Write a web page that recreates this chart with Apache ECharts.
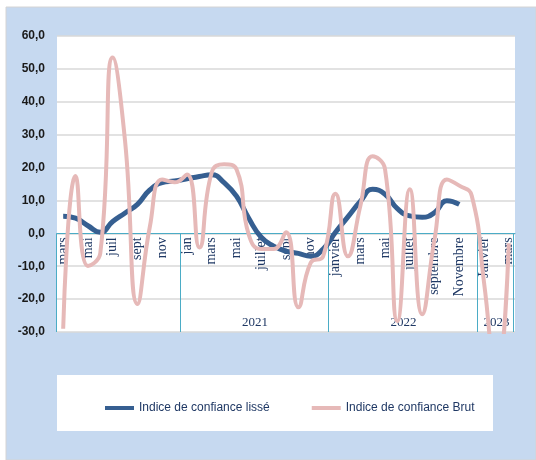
<!DOCTYPE html>
<html>
<head>
<meta charset="utf-8">
<style>
  html, body { margin: 0; padding: 0; background: #fff; }
  #chart { width: 536px; height: 460px; }
</style>
<script src="https://cdn.jsdelivr.net/npm/echarts@6/dist/echarts.min.js"></script>
</head>
<body>
<div id="chart"></div>
<script>
// months from mars 2020 to mars 2023
var months = [
  'mars', 'avril', 'mai', 'juin', 'juil', 'août', 'sept', 'oct', 'nov', 'déc',
  'jan', 'fév', 'mars', 'avr', 'mai', 'juin', 'juillet', 'août', 'sept', 'oct', 'nov', 'déc',
  'janvier', 'février', 'mars', 'avril', 'mai', 'juin', 'juillet', 'août', 'septembre', 'octobre', 'Novembre', 'décembre',
  'Janvier', 'février', 'mars'
];
var years = [
  2020, 2020, 2020, 2020, 2020, 2020, 2020, 2020, 2020, 2020,
  2021, 2021, 2021, 2021, 2021, 2021, 2021, 2021, 2021, 2021, 2021, 2021,
  2022, 2022, 2022, 2022, 2022, 2022, 2022, 2022, 2022, 2022, 2022, 2022,
  2023, 2023, 2023
];
var yearLabels = ['2021', '2022', '2023'];

var lisse = [
  5.2, 4.6, 2.3, 0.3, 3.6, 6.2, 8.8, 13.2, 15.4, 15.9,
  16.6, 17.3, 17.8, 15.4, 11.3, 4.5, -1.2, -3.9, -5.4, -6.1, -7.0, -4.8,
  0.3, 5.0, 9.7, 13.4, 11.9, 7.5, 5.3, 4.9, 6.3, 9.9, 8.8, null,
  null, null, null
];
var brut = [
  -29, 17.4, -9.9, -6, 53.5, 28, -21.5, 2, 16.4, 15.5,
  17.9, -4.3, 18.5, 21, 19.5, -0.5, -4.8, -4.8, 0.3, -22.5, -8.9, -7,
  12, -7, 8.2, 23.4, 19.5, -26.7, 13.4, -24.6, -1.8, 16.4, 14.5, 11.5,
  -15, -45, -3
];

var yMin = -30, yMax = 60;
var gridTop = 36, gridBottom = 128, gridH = 460 - gridTop - gridBottom;
var zeroDepth = gridH * (0 - yMin) / (yMax - yMin);

// year group boundaries and centres, from the years list
var bounds = [0], centres = {}, start = 0;
for (var i = 1; i <= years.length; i++) {
  if (i === years.length || years[i] !== years[i - 1]) {
    bounds.push(i);
    if (yearLabels.indexOf(String(years[i - 1])) >= 0) {
      centres[(start + i) / 2] = String(years[i - 1]);
    }
    start = i;
  }
}
var centreVals = Object.keys(centres).map(Number);

var teal = '#4BACC6';
var navy = '#1F3864';

var chart = echarts.init(document.getElementById('chart'), null, { renderer: 'canvas' });
chart.setOption({
  animation: false,
  backgroundColor: '#fff',
  graphic: [
    { type: 'rect', z: -10, shape: { x: 6, y: 7, width: 530, height: 453 },
      style: { fill: '#C6D9F0', stroke: '#d4d4d4', lineWidth: 1 } },
    { type: 'rect', z: -5, shape: { x: 57, y: 375, width: 436, height: 56 },
      style: { fill: '#fff' } }
  ],
  grid: {
    left: 57, right: 21, top: gridTop, bottom: gridBottom,
    show: true, backgroundColor: '#fff', borderWidth: 0
  },
  legend: {
    left: 100, top: 397,
    itemWidth: 29, itemHeight: 4, itemGap: 42,
    icon: 'rect',
    textStyle: { color: navy, fontSize: 12, fontFamily: 'Liberation Sans' },
    data: ['Indice de confiance lissé', 'Indice de confiance Brut']
  },
  xAxis: [
    {
      type: 'category',
      data: months,
      boundaryGap: true,
      position: 'bottom',
      offset: -zeroDepth,
      axisLine: { onZero: false, lineStyle: { color: teal, width: 1 } },
      axisTick: { show: false },
      axisLabel: {
        interval: 1, rotate: 90, margin: 4,
        color: navy, fontSize: 14, fontFamily: 'Liberation Serif'
      },
      splitLine: { show: false }
    },
    {
      type: 'value',
      min: 0, max: months.length,
      position: 'bottom',
      axisLine: { show: false, onZero: false },
      axisTick: { show: false },
      axisLabel: {
        inside: true, margin: 3, customValues: centreVals,
        formatter: function (v) { return centres[v] || ''; },
        color: navy, fontSize: 13, fontFamily: 'Liberation Serif'
      },
      splitLine: { show: false }
    }
  ],
  yAxis: {
    type: 'value',
    min: yMin, max: yMax, interval: 10,
    axisLine: { show: false },
    axisTick: { show: false },
    axisLabel: {
      margin: 12, color: '#1a1a1a', fontSize: 12, fontWeight: 'bold',
      fontFamily: 'Liberation Sans',
      formatter: function (v) { return v.toFixed(1).replace('.', ','); }
    },
    splitLine: { lineStyle: { color: '#D9D9D9', width: 1.5 } }
  },
  series: [
    {
      // year separators of the category axis, from the zero line down
      type: 'custom',
      xAxisIndex: 1,
      silent: true,
      z: 1,
      data: bounds.map(function (b) { return [b, 0]; }),
      renderItem: function (params, api) {
        var top = api.coord([api.value(0), 0]);
        var bot = api.coord([api.value(0), yMin]);
        var x = Math.round(top[0]) - 0.5;
        if (params.dataIndex === bounds.length - 1) x -= 1;
        return {
          type: 'line',
          shape: { x1: x, y1: top[1], x2: x, y2: bot[1] },
          style: { stroke: teal, lineWidth: 1 }
        };
      }
    },
    {
      name: 'Indice de confiance lissé',
      type: 'line',
      data: lisse,
      smooth: 0.5,
      showSymbol: false,
      itemStyle: { color: '#365F91' },
      lineStyle: { color: '#365F91', width: 5 },
      z: 3
    },
    {
      name: 'Indice de confiance Brut',
      type: 'line',
      data: brut,
      smooth: 0.5,
      showSymbol: false,
      itemStyle: { color: '#E6B9B8' },
      lineStyle: { color: '#E6B9B8', width: 4 },
      z: 4
    }
  ]
});
</script>
</body>
</html>
